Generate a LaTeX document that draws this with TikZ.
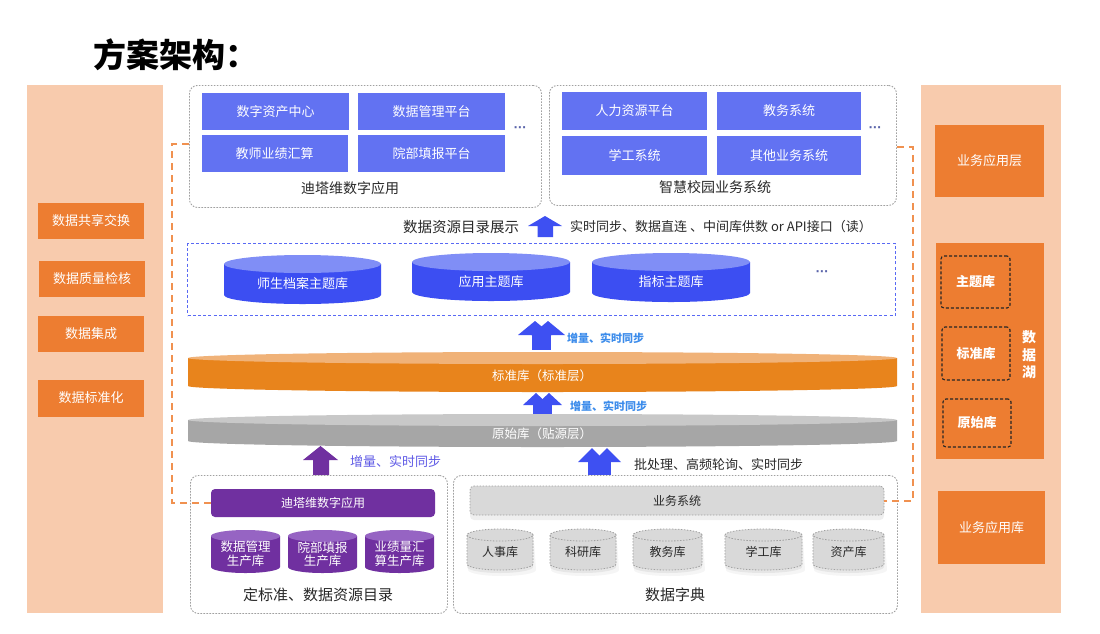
\documentclass[tikz,border=0pt]{standalone}
\usepackage{fontspec}
\setmainfont{Noto Sans CJK SC}
\newfontfamily\dotfont{DejaVu Sans}
\usetikzlibrary{shadows}
\definecolor{peach}{RGB}{248,203,173}
\definecolor{orng}{RGB}{237,125,49}
\definecolor{bbox}{RGB}{98,114,242}
\definecolor{bcyl}{RGB}{60,78,242}
\definecolor{bcyltop}{RGB}{128,142,246}
\definecolor{barrow}{RGB}{62,80,242}
\definecolor{odisc}{RGB}{232,132,28}
\definecolor{odisctop}{RGB}{240,178,120}
\definecolor{gdisc}{RGB}{166,166,166}
\definecolor{gdisctop}{RGB}{200,200,200}
\definecolor{purp}{RGB}{112,48,160}
\definecolor{purptop}{RGB}{150,100,195}
\definecolor{lgray}{RGB}{217,217,217}
\definecolor{dgray}{RGB}{160,160,160}
\definecolor{odash}{RGB}{240,145,80}
\definecolor{lblue}{RGB}{60,140,235}
\definecolor{pblue}{RGB}{95,90,230}
\definecolor{txt}{RGB}{40,40,40}
\definecolor{dotc}{RGB}{90,100,170}
\newcommand\dbshape[7]{%
  \path[#6] ({#1-#2},{#3+#5}) -- ({#1-#2},{#4-#5}) arc[start angle=180,end angle=360,x radius=#2pt,y radius=#5pt] -- ({#1+#2},{#3+#5}) -- cycle;
  \path[#7] (#1,{#3+#5}) ellipse[x radius=#2pt, y radius=#5pt];}
\newcommand\dbshadow[5]{%
  \dbshape{#1}{#2+1}{#3+6}{#4+6}{#5}{fill=black,opacity=.04}{fill=none}
  \dbshape{#1}{#2}{#3+3}{#4+3}{#5}{fill=black,opacity=.06}{fill=none}}
\newcommand\twinarrow[8]{%
  \fill[barrow] ({#1-#3},#5) -- (#1,#4) -- ({#1+#3},#5) -- cycle;
  \fill[barrow] ({#2-#3},#5) -- (#2,#4) -- ({#2+#3},#5) -- cycle;
  \fill[barrow] (#7,{#5-0.5}) rectangle (#8,#6);}
\tikzset{
  f/.style={font=\fontsize{#1}{14}\selectfont},
  obox/.style={fill=orng, text=white, inner sep=0pt, f=13},
  bluebox/.style={fill=bbox, text=white, inner sep=0pt, minimum height=37pt, f=13},
  grpbox/.style={draw=dgray, dash pattern=on 1.6pt off 1.4pt, line width=0.9pt, rounded corners=8pt, anchor=north west, inner sep=0pt},
  lakebox/.style={draw=black!85, dash pattern=on 3pt off 2pt, line width=1.1pt, rounded corners=3pt, text=white, inner sep=0pt, font=\fontsize{13}{15}\selectfont\bfseries},
  lbl/.style={text=txt, inner sep=0pt, f=#1},
  cyltext/.style={text=white, inner sep=0pt, align=center, f=#1},
  graytext/.style={text=txt, inner sep=0pt, align=center, f=#1},
  dots/.style={text=dotc, inner sep=0pt, font=\dotfont\bfseries\fontsize{11}{12}\selectfont},
  odashed/.style={draw=odash, line width=2pt, dash pattern=on 7pt off 5pt}
}
\begin{document}
\begin{tikzpicture}[x=1pt,y=-1pt]
\useasboundingbox (0,0) rectangle (1100,633);
\fill[white] (0,0) rectangle (1100,633);

% title
\node[anchor=west, inner sep=0pt, font=\fontsize{33}{38}\selectfont\bfseries] (title) at (93,55) {方案架构：};

% left panel
\node[fill=peach, minimum width=136pt, minimum height=528pt, inner sep=0pt, anchor=north west] (leftpanel) at (27,85) {};
\node[obox, minimum width=106pt, minimum height=36pt] (l1) at (91,221) {数据共享交换};
\node[obox, minimum width=106pt, minimum height=36pt] (l2) at (92,279) {数据质量检核};
\node[obox, minimum width=106pt, minimum height=36pt] (l3) at (91,333.5) {数据集成};
\node[obox, minimum width=106pt, minimum height=37pt] (l4) at (91,398) {数据标准化};

% right panel
\node[fill=peach, minimum width=140pt, minimum height=528pt, inner sep=0pt, anchor=north west] (rightpanel) at (921,85) {};
\node[obox, minimum width=109pt, minimum height=72pt] (r1) at (989.5,161) {业务应用层};
\node[fill=orng, minimum width=108pt, minimum height=216pt, inner sep=0pt, anchor=north west] (lake) at (936,243) {};
\node[lakebox, minimum width=69pt, minimum height=52pt] (lk1) at (975.5,282) {主题库};
\node[lakebox, minimum width=68pt, minimum height=53pt] (lk2) at (976,353.5) {标准库};
\node[lakebox, minimum width=68pt, minimum height=48pt] (lk3) at (977,423) {原始库};
\node[text=white, inner sep=0pt, align=center, font=\fontsize{14}{17.5}\selectfont\bfseries] (laketxt) at (1029,355) {数\\据\\湖};
\node[obox, minimum width=107pt, minimum height=73pt] (r2) at (991.5,527.5) {业务应用库};

% top groups
\node[grpbox, minimum width=352pt, minimum height=122pt] (appgrp) at (189,85) {};
\node[bluebox, minimum width=147pt] (a1) at (275.5,111.5) {数字资产中心};
\node[bluebox, minimum width=147pt] (a2) at (431.5,111.5) {数据管理平台};
\node[bluebox, minimum width=146pt] (a3) at (274.5,153.5) {教师业绩汇算};
\node[bluebox, minimum width=147pt] (a4) at (431.5,153.5) {院部填报平台};
\node[dots] (adots) at (520,129) {···};
\node[lbl=14] (applbl) at (350,188) {迪塔维数字应用};

\node[grpbox, minimum width=347pt, minimum height=120pt] (campgrp) at (549,85) {};
\node[bluebox, minimum width=145pt, minimum height=38pt] (b1) at (634.5,111) {人力资源平台};
\node[bluebox, minimum width=144pt, minimum height=38pt] (b2) at (789,111) {教务系统};
\node[bluebox, minimum width=145pt, minimum height=39pt] (b3) at (634.5,155.5) {学工系统};
\node[bluebox, minimum width=144pt, minimum height=39pt] (b4) at (789,155.5) {其他业务系统};
\node[dots] (bdots) at (875,129) {···};
\node[lbl=14] (camplbl) at (715,187) {智慧校园业务系统};

% read row
\node[lbl=14.5] (catalog) at (461,227) {数据资源目录展示};
\fill[barrow] (528,226) -- (545,216) -- (562,226) -- (553,226) -- (553,237) -- (537.5,237) -- (537.5,226) -- cycle;
\node[lbl=13, anchor=west] (readlbl) at (570,227) {实时同步、数据直连 、中间库供数 or API接口（读）};

% topic box
\node[draw=bcyl!85, dash pattern=on 3pt off 2.2pt, line width=1.2pt, minimum width=708pt, minimum height=72pt, inner sep=0pt, anchor=north west] (topicbox) at (187,243) {};
\dbshape{302.5}{78.5}{255}{304}{9}{fill=bcyl}{fill=bcyltop}
\node[cyltext=13] (t1) at (302.5,284) {师生档案主题库};
\dbshape{491}{79}{253}{301}{9}{fill=bcyl}{fill=bcyltop}
\node[cyltext=13] (t2) at (491,282) {应用主题库};
\dbshape{671}{79}{253}{302}{9}{fill=bcyl}{fill=bcyltop}
\node[cyltext=13] (t3) at (671,282) {指标主题库};
\node[dots] (tdots) at (822,273) {···};

% arrows and layers
\twinarrow{535}{548}{17}{321}{335}{350}{532}{551}
\node[text=lblue, inner sep=0pt, anchor=west, font=\fontsize{11}{13}\selectfont\bfseries] (inc1) at (567,338) {增量、实时同步};

\dbshape{542.5}{354.5}{352}{392}{6}{fill=odisc}{fill=odisctop}
\node[cyltext=12.5] (stdlayer) at (542,376) {标准库（标准层）};

\twinarrow{536}{549}{13}{393}{405}{415}{533}{552}
\node[text=lblue, inner sep=0pt, anchor=west, font=\fontsize{11}{13}\selectfont\bfseries] (inc2) at (570,406) {增量、实时同步};

\dbshape{542.5}{354.5}{414}{447}{6}{fill=gdisc}{fill=gdisctop}
\node[cyltext=12.5] (rawlayer) at (542,434) {原始库（贴源层）};

\fill[purp] (303,460) -- (320.5,446) -- (338,460) -- (329,460) -- (329,475) -- (313,475) -- (313,460) -- cycle;
\node[text=pblue, inner sep=0pt, anchor=west, f=13] (inc3) at (350,462) {增量、实时同步};

\twinarrow{592}{607}{14}{448}{462}{475}{588}{611}
\node[lbl=13, anchor=west] (batch) at (634,465) {批处理、高频轮询、实时同步};

% bottom left group
\node[grpbox, minimum width=257pt, minimum height=138pt] (prodgrp) at (190,475) {};
\node[fill=purp, rounded corners=4pt, minimum width=224pt, minimum height=28pt, inner sep=0pt, text=white, f=12] (pbar) at (323,503) {迪塔维数字应用};
\dbshape{245.5}{34.5}{530}{573}{6}{fill=purp}{fill=purptop}
\node[cyltext=12.5, font=\fontsize{12.5}{13.5}\selectfont] (p1) at (245.5,554) {数据管理\\生产库};
\dbshape{322.5}{34.5}{530}{573}{6}{fill=purp}{fill=purptop}
\node[cyltext=12.5, font=\fontsize{12.5}{13.5}\selectfont] (p2) at (322.5,554) {院部填报\\生产库};
\dbshape{399.5}{34.5}{530}{573}{6}{fill=purp}{fill=purptop}
\node[cyltext=12.5, font=\fontsize{12.5}{13.5}\selectfont] (p3) at (399.5,554) {业绩量汇\\算生产库};
\node[lbl=15] (prodlbl) at (318,595) {定标准、数据资源目录};

% bottom right group
\node[grpbox, minimum width=444pt, minimum height=138pt] (bizgrp) at (453,475) {};
\node[fill=lgray, draw=dgray, dash pattern=on 1.5pt off 1.5pt, line width=0.8pt, rounded corners=4pt, minimum width=414pt, minimum height=29pt, inner sep=0pt, text=txt, f=12, drop shadow={opacity=0.12, shadow xshift=0pt, shadow yshift=-5pt}] (bizbar) at (677,500.5) {业务系统};
\dbshadow{500}{33}{529}{570}{6}
\dbshadow{583}{33}{529}{570}{6}
\dbshadow{667.5}{34.5}{529}{570}{6}
\dbshadow{763.5}{38.5}{529}{570}{6}
\dbshadow{848.5}{35.5}{529}{570}{6}
\dbshape{500}{33}{529}{570}{6}{fill=lgray,draw=dgray,dash pattern=on 1.5pt off 1.5pt,line width=0.8pt}{fill=lgray,draw=dgray,dash pattern=on 1.5pt off 1.5pt,line width=0.8pt}
\node[graytext=12] (g1) at (500,552) {人事库};
\dbshape{583}{33}{529}{570}{6}{fill=lgray,draw=dgray,dash pattern=on 1.5pt off 1.5pt,line width=0.8pt}{fill=lgray,draw=dgray,dash pattern=on 1.5pt off 1.5pt,line width=0.8pt}
\node[graytext=12] (g2) at (583,552) {科研库};
\dbshape{667.5}{34.5}{529}{570}{6}{fill=lgray,draw=dgray,dash pattern=on 1.5pt off 1.5pt,line width=0.8pt}{fill=lgray,draw=dgray,dash pattern=on 1.5pt off 1.5pt,line width=0.8pt}
\node[graytext=12] (g3) at (667.5,552) {教务库};
\dbshape{763.5}{38.5}{529}{570}{6}{fill=lgray,draw=dgray,dash pattern=on 1.5pt off 1.5pt,line width=0.8pt}{fill=lgray,draw=dgray,dash pattern=on 1.5pt off 1.5pt,line width=0.8pt}
\node[graytext=12] (g4) at (763.5,552) {学工库};
\dbshape{848.5}{35.5}{529}{570}{6}{fill=lgray,draw=dgray,dash pattern=on 1.5pt off 1.5pt,line width=0.8pt}{fill=lgray,draw=dgray,dash pattern=on 1.5pt off 1.5pt,line width=0.8pt}
\node[graytext=12] (g5) at (848.5,552) {资产库};
\node[lbl=15] (dictlbl) at (675,595) {数据字典};

% orange dashed brackets
\coordinate (ltop) at (189,144);
\coordinate (lbot) at (211,503);
\coordinate (rtop) at (897,147);
\coordinate (rbot) at (884,501);
\draw[odashed] (ltop) -- (172,144) -- (172,503) -- (lbot);
\draw[odashed] (rtop) -- (913,147) -- (913,501) -- (rbot);
\end{tikzpicture}
\end{document}
